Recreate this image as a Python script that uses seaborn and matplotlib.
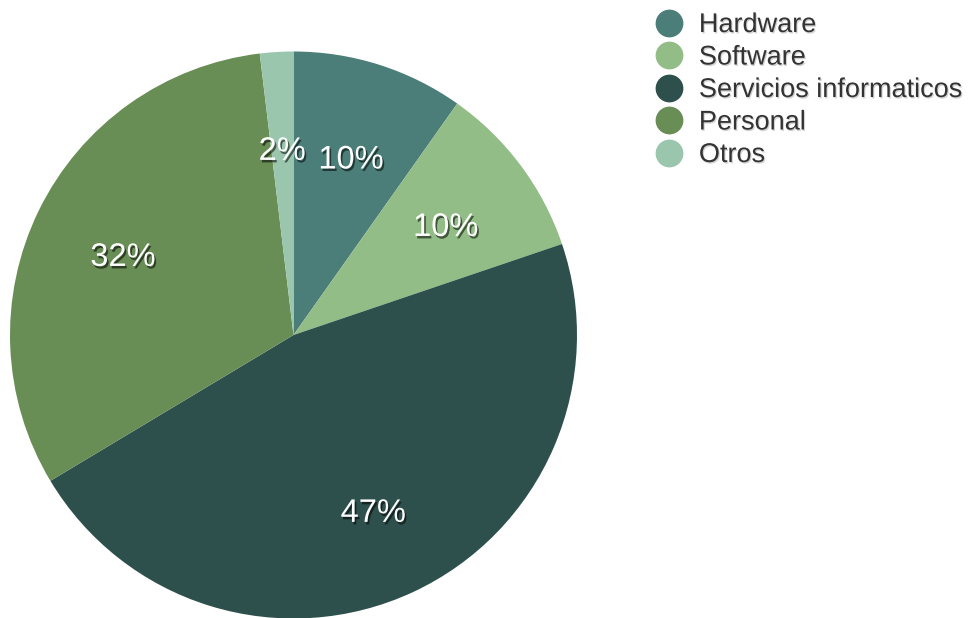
import matplotlib
matplotlib.use("Agg")
import matplotlib.pyplot as plt
import matplotlib.patheffects as pe
import matplotlib.transforms as mtransforms
from matplotlib.lines import Line2D
import seaborn as sns

# Spending breakdown
categories = ["Hardware", "Software", "Servicios informaticos", "Personal", "Otros"]
shares = [9.8, 10.0, 46.6, 31.7, 1.9]
colors = ["#4b7e78", "#92bd86", "#2e504c", "#688d55", "#9ac6ad"]

sns.set_theme(style="white")
plt.rcParams["font.family"] = ["Liberation Sans", "DejaVu Sans"]

W, H, DPI = 974, 618, 100
fig = plt.figure(figsize=(W / DPI, H / DPI), dpi=DPI)
fig.patch.set_facecolor("white")

cx, cy, r = 293.5, 335.0, 283.5
ax = fig.add_axes([(cx - r) / W, (H - cy - r) / H, 2 * r / W, 2 * r / H])

palette = sns.color_palette(colors)
wedges, _, autotexts = ax.pie(
    shares,
    colors=palette,
    startangle=90,
    counterclock=False,
    autopct="%.0f%%",
    pctdistance=0.67,
    wedgeprops=dict(linewidth=0),
    textprops=dict(color="white", fontsize=23.5),
)
# nudge the percentage labels slightly below their anchor points
nudge = mtransforms.ScaledTranslation(0, -6 / DPI, fig.dpi_scale_trans)
for t in autotexts:
    t.set_transform(t.get_transform() + nudge)
    t.set_path_effects([
        pe.SimplePatchShadow(offset=(1.2, -1.8), shadow_rgbFace="black", alpha=0.55),
        pe.Normal(),
    ])
ax.set_xlim(-1, 1)
ax.set_ylim(-1, 1)
ax.set_aspect("equal")
ax.axis("off")

handles = [
    Line2D([], [], linestyle="none", marker="o", markersize=20,
           markerfacecolor=c, markeredgewidth=0)
    for c in palette
]
leg = fig.legend(
    handles, categories,
    loc="upper left",
    bbox_to_anchor=(655 / W, 1 - 12 / H),
    frameon=False,
    fontsize=19.5,
    handlelength=1.0,
    handletextpad=0.62,
    labelspacing=0.24,
    borderaxespad=0,
    borderpad=0,
)
for t in leg.get_texts():
    t.set_color("#333333")
    t.set_path_effects([
        pe.SimplePatchShadow(offset=(0.8, -1.0), shadow_rgbFace="gray", alpha=0.35),
        pe.Normal(),
    ])

fig.savefig("out.png", dpi=DPI, facecolor="white")
